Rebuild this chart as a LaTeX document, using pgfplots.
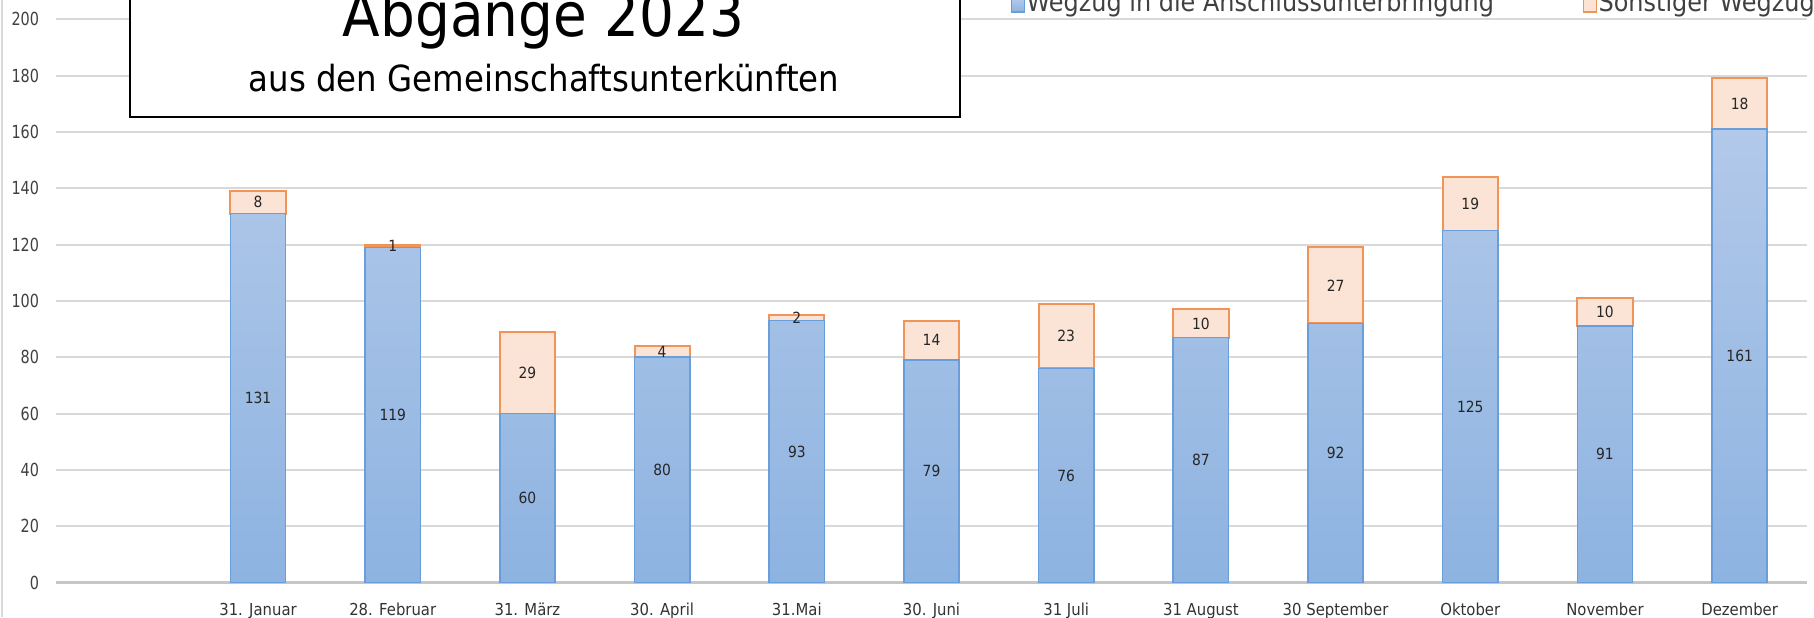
\documentclass[border=0pt]{standalone}
\usepackage{fontspec}
\setmainfont{DejaVu Sans}[FakeStretch=0.9]
\newfontfamily\tickfont{DejaVu Sans}[FakeStretch=0.8]
\usepackage{pgfplots}
\usepackage{pgfplotstable}
\pgfplotsset{compat=1.18}
\definecolor{bluetop}{RGB}{178,201,233}
\definecolor{bluebot}{RGB}{141,179,225}
\definecolor{blueedge}{RGB}{106,158,218}
\definecolor{orfill}{RGB}{251,228,214}
\definecolor{oredge}{RGB}{241,148,88}
\definecolor{gridc}{RGB}{217,217,217}
\definecolor{txt}{RGB}{64,64,64}
\pgfplotstableread{
x a b
1 131 8
2 119 1
3 60 29
4 80 4
5 93 2
6 79 14
7 76 23
8 87 10
9 92 27
10 125 19
11 91 10
12 161 18
}\data
\pgfplotsset{
  geom/.style={
    at={(28pt,17.25pt)}, anchor=south west,
    scale only axis, width=875.5pt, height=281.6pt,
    xmin=-0.5, xmax=12.5, ymin=0, ymax=200,
    /pgf/number format/assume math mode=true,
  },
  sq legend/.style={legend image code/.code={\draw[##1, line width=0.7pt] (0pt,-4.5pt) rectangle (6.5pt,2pt);}},
  lbl/.style={draw=none, mark=none, nodes near coords, point meta=explicit, nodes near coords align=center,
    every node near coord/.append style={font=\fontsize{7.7pt}{9pt}\selectfont, text=black!85, inner sep=0pt}},
}
\begin{document}
\begin{tikzpicture}
\useasboundingbox (0,0) rectangle (907pt,308.5pt);
\draw[gridc, line width=1pt] (1pt,0) -- (1pt,308.5pt);
\begin{axis}[
  geom,
  ybar stacked, bar width=0.41,
  axis x line*=bottom, axis y line*=left,
  y axis line style={draw=none},
  x axis line style={draw=gray!45, line width=1.2pt},
  tick style={draw=none}, major tick length=0pt,
  ymajorgrids, grid style={gridc, line width=1pt},
  ytick={0,20,...,200},
  xtick={1,...,12},
  xticklabels={31. Januar,28. Februar,31. März,30. April,31.Mai,30. Juni,31 Juli,31 August,30 September,Oktober,November,Dezember},
  yticklabel style={font=\tickfont\fontsize{9pt}{10pt}\selectfont, text=txt, inner sep=0pt, anchor=east, xshift=-8.3pt},
  xticklabel style={font=\fontsize{8.25pt}{10pt}\selectfont, text=black!80, inner sep=0pt, anchor=base, yshift=-16.25pt},
  legend style={at={(0.5452,1.029)}, anchor=west, draw=none, fill=none, inner sep=0pt, outer sep=0pt,
    font=\fontsize{13.3pt}{15pt}\selectfont, text=txt,
    /tikz/every even column/.append style={column sep=43.5pt}, nodes={inner sep=0.8pt}},
  legend columns=2,
]
\addplot[draw=blueedge, line width=0.8pt, top color=bluetop, bottom color=bluebot, sq legend]
  table[x=x,y=a]{\data};
\addplot[draw=oredge, line width=1pt, fill=orfill, sq legend]
  table[x=x,y=b]{\data};
\legend{Wegzug in die Anschlussunterbringung, Sonstiger Wegzug}
\end{axis}
\begin{axis}[geom, hide axis, clip=false]
\addplot[lbl] table[x=x, y expr=\thisrow{a}/2, meta=a]{\data};
\addplot[lbl] table[x=x, y expr=\thisrow{a}+\thisrow{b}/2, meta=b]{\data};
\end{axis}
\draw[black, line width=1pt, fill=white] (65pt,330pt) rectangle (480pt,250pt);
\node[anchor=base, inner sep=0pt, font=\fontsize{30.5pt}{36pt}\selectfont] at (271.75pt,290.15pt) {Abgänge 2023};
\node[anchor=base, inner sep=0pt, font=\fontsize{18pt}{21pt}\selectfont] at (272pt,262.65pt) {aus den Gemeinschaftsunterkünften};
\end{tikzpicture}
\end{document}
